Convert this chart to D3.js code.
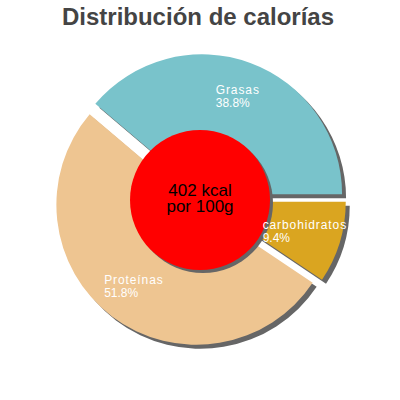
<!DOCTYPE html>
<html>
<head>
<meta charset="utf-8">
<script src="https://cdn.jsdelivr.net/npm/d3@7"></script>
<style>
    body { margin: 0; background: #fff; }
    svg { display: block; }
</style>
</head>
<body>
<div id="chart"></div>
<script>
// data
let categories = ["Grasas", "carbohidratos", "Proteínas"];
let percents = [38.8, 9.4, 51.8];
let colors = ["#79c3cb", "#daa520", "#eec591"];
let titleText = "Distribución de calorías";
let centerLines = ["402 kcal", "por 100g"];

let width = 400, height = 400;
let cx = 200, cy = 200;
let radius = 140;
let explode = 6;

let svg = d3.select("#chart").append("svg")
    .attr("width", width)
    .attr("height", height);

svg.append("text")
    .attr("x", 198)
    .attr("y", 25)
    .attr("text-anchor", "middle")
    .style("font-family", "'Liberation Sans', Arial, sans-serif")
    .style("font-weight", "bold")
    .style("font-size", "24px")
    .style("fill", "#444")
    .text(titleText);

let data = categories.map((c, i) => ({name: c, value: percents[i], color: colors[i]}));

// first slice ends at 3 o'clock
let start = Math.PI / 2 - 2 * Math.PI * percents[0] / d3.sum(percents);
let pie = d3.pie()
    .sort(null)
    .value(d => d.value)
    .startAngle(start)
    .endAngle(start + 2 * Math.PI);

let arc = d3.arc().innerRadius(0).outerRadius(radius);
let labelArc = d3.arc().innerRadius(radius * 0.74).outerRadius(radius * 0.74);

let arcs = pie(data);

function offset(d) {
    let a = (d.startAngle + d.endAngle) / 2;
    return [Math.sin(a) * explode, -Math.cos(a) * explode];
}

let g = svg.append("g")
    .attr("transform", "translate(" + cx + "," + cy + ")");

// shadows
g.selectAll(".shadow")
    .data(arcs)
    .enter()
    .append("path")
    .attr("class", "shadow")
    .attr("d", arc)
    .attr("transform", d => {
        let o = offset(d);
        return "translate(" + (o[0] + 4) + "," + (o[1] + 4) + ")";
    })
    .style("fill", "#666");

g.selectAll(".slice")
    .data(arcs)
    .enter()
    .append("path")
    .attr("class", "slice")
    .attr("d", arc)
    .attr("transform", d => "translate(" + offset(d) + ")")
    .style("fill", d => d.data.color);

// center circle
g.append("circle")
    .attr("cx", 3)
    .attr("cy", 3)
    .attr("r", 70)
    .style("fill", "#666");

g.append("circle")
    .attr("r", 70)
    .style("fill", "#ff0000");

let center = g.append("text")
    .attr("text-anchor", "middle")
    .style("font-family", "'Liberation Sans', Arial, sans-serif")
    .style("font-size", "17px")
    .style("fill", "#000");

center.selectAll("tspan")
    .data(centerLines)
    .enter()
    .append("tspan")
    .attr("x", 0)
    .attr("y", (d, i) => -4 + i * 16)
    .text(d => d);

// labels
let labels = g.selectAll(".label")
    .data(arcs)
    .enter()
    .append("text")
    .attr("class", "label")
    .style("font-family", "'Liberation Sans', Arial, sans-serif")
    .style("font-size", "12px")
    .style("fill", "#fff");

labels.append("tspan")
    .attr("class", "name")
    .style("letter-spacing", "0.9px")
    .text(d => d.data.name);

labels.append("tspan")
    .attr("class", "pct")
    .text(d => d.data.value.toFixed(1) + "%");

labels.each(function(d) {
    let t = d3.select(this);
    let w = d3.max(t.selectAll("tspan").nodes(), n => n.getComputedTextLength());
    let c = labelArc.centroid(d);
    let o = offset(d);
    let x = c[0] + o[0] - w / 2;
    let y = c[1] + o[1];
    t.select(".name").attr("x", x).attr("y", y - 3);
    t.select(".pct").attr("x", x).attr("y", y + 10);
});
</script>
</body>
</html>
